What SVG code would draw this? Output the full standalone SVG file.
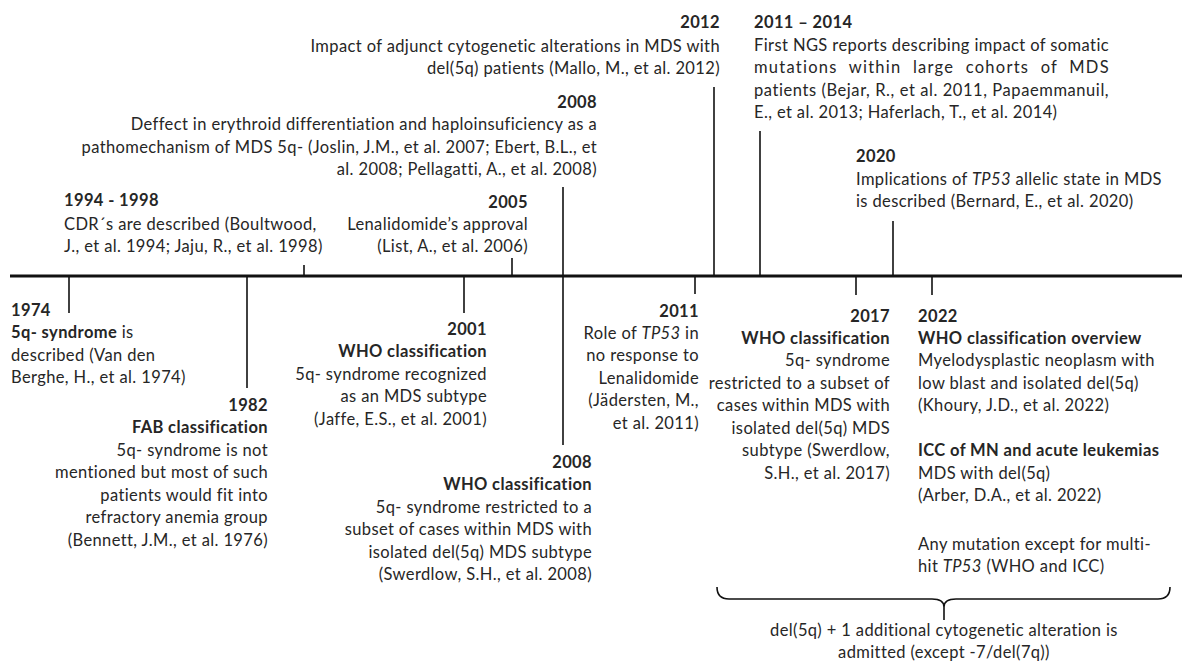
<svg xmlns="http://www.w3.org/2000/svg" width="1182" height="668" viewBox="0 0 1182 668">
<style>
text{font-family:Lato,"Open Sans","Liberation Sans",sans-serif;font-size:16.5px;letter-spacing:0.38px;fill:#262626}
.b{font-weight:bold}
.r{text-anchor:end}
.c{text-anchor:middle}
.i{font-style:italic}
.ln{stroke:#111;stroke-width:1.6;fill:none}
.ax{stroke:#111;stroke-width:3.2;fill:none}
</style>
<rect width="1182" height="668" fill="#fff"/>
<g id="connectors">
<line class="ax" x1="10" y1="276" x2="1182" y2="276"/>
<line class="ln" x1="714" y1="87" x2="714" y2="276"/>
<line class="ln" x1="563" y1="187" x2="563" y2="445"/>
<line class="ln" x1="760" y1="131" x2="760" y2="276"/>
<line class="ln" x1="893" y1="221" x2="893" y2="276"/>
<line class="ln" x1="304" y1="265" x2="304" y2="276"/>
<line class="ln" x1="512" y1="258" x2="512" y2="276"/>
<line class="ln" x1="69" y1="276" x2="69" y2="313"/>
<line class="ln" x1="247" y1="276" x2="247" y2="388"/>
<line class="ln" x1="464" y1="276" x2="464" y2="313"/>
<line class="ln" x1="695" y1="276" x2="695" y2="294"/>
<line class="ln" x1="856" y1="276" x2="856" y2="295"/>
<line class="ln" x1="932" y1="276" x2="932" y2="295"/>
<path class="ln" d="M717,587 Q717,599 729,599 L932,599 Q944,599 944,607 Q944,599 956,599 L1158,599 Q1170,599 1170,587 M944,605 L944,620"/>
</g>
<g id="e2012">
<text class="b r" x="720" y="28">2012</text>
<text class="r" x="720" y="52">Impact of adjunct cytogenetic alterations in MDS with</text>
<text class="r" x="720" y="74">del(5q) patients (Mallo, M., et al. 2012)</text>
</g>
<g id="e2008a">
<text class="b r" x="597" y="108">2008</text>
<text class="r" x="597" y="130">Deffect in erythroid differentiation and haploinsuficiency as a</text>
<text class="r" x="597" y="153">pathomechanism of MDS 5q- (Joslin, J.M., et al. 2007; Ebert, B.L., et</text>
<text class="r" x="597" y="175">al. 2008; Pellagatti, A., et al. 2008)</text>
</g>
<g id="e2011_2014">
<text class="b" x="754" y="28">2011 – 2014</text>
<text x="754" y="51" textLength="355" lengthAdjust="spacing">First NGS reports describing impact of somatic</text>
<text x="754" y="73" textLength="355" lengthAdjust="spacing" word-spacing="6">mutations within large cohorts of MDS</text>
<text x="754" y="96" textLength="355" lengthAdjust="spacing">patients (Bejar, R., et al. 2011, Papaemmanuil,</text>
<text x="754" y="118">E., et al. 2013; Haferlach, T., et al. 2014)</text>
</g>
<g id="e2020">
<text class="b" x="856" y="162">2020</text>
<text x="856" y="185">Implications of <tspan class="i">TP53</tspan> allelic state in MDS</text>
<text x="856" y="207">is described (Bernard, E., et al. 2020)</text>
</g>
<g id="e1994">
<text class="b" x="64" y="206">1994 - 1998</text>
<text x="64" y="230">CDR´s are described (Boultwood,</text>
<text x="64" y="252">J., et al. 1994; Jaju, R., et al. 1998)</text>
</g>
<g id="e2005">
<text class="b r" x="528" y="208">2005</text>
<text class="r" x="528" y="230">Lenalidomide’s approval</text>
<text class="r" x="528" y="252">(List, A., et al. 2006)</text>
</g>
<g id="e1974">
<text class="b" x="11" y="316">1974</text>
<text x="11" y="338"><tspan class="b">5q- syndrome</tspan> is</text>
<text x="11" y="361">described (Van den</text>
<text x="11" y="383">Berghe, H., et al. 1974)</text>
</g>
<g id="e1982">
<text class="b r" x="268" y="411">1982</text>
<text class="b r" x="268" y="433">FAB classification</text>
<text class="r" x="268" y="456">5q- syndrome is not</text>
<text class="r" x="268" y="478">mentioned but most of such</text>
<text class="r" x="268" y="501">patients would fit into</text>
<text class="r" x="268" y="523">refractory anemia group</text>
<text class="r" x="268" y="546">(Bennett, J.M., et al. 1976)</text>
</g>
<g id="e2001">
<text class="b r" x="487" y="335">2001</text>
<text class="b r" x="487" y="357">WHO classification</text>
<text class="r" x="487" y="380">5q- syndrome recognized</text>
<text class="r" x="487" y="402">as an MDS subtype</text>
<text class="r" x="487" y="425">(Jaffe, E.S., et al. 2001)</text>
</g>
<g id="e2008b">
<text class="b r" x="592" y="468">2008</text>
<text class="b r" x="592" y="490">WHO classification</text>
<text class="r" x="592" y="513">5q- syndrome restricted to a</text>
<text class="r" x="592" y="535">subset of cases within MDS with</text>
<text class="r" x="592" y="558">isolated del(5q) MDS subtype</text>
<text class="r" x="592" y="580">(Swerdlow, S.H., et al. 2008)</text>
</g>
<g id="e2011">
<text class="b r" x="699" y="317">2011</text>
<text class="r" x="699" y="339">Role of <tspan class="i">TP53</tspan> in</text>
<text class="r" x="699" y="361">no response to</text>
<text class="r" x="699" y="384">Lenalidomide</text>
<text class="r" x="699" y="406">(Jädersten, M.,</text>
<text class="r" x="699" y="429">et al. 2011)</text>
</g>
<g id="e2017">
<text class="b r" x="890" y="322">2017</text>
<text class="b r" x="890" y="344">WHO classification</text>
<text class="r" x="890" y="366">5q- syndrome</text>
<text class="r" x="890" y="389">restricted to a subset of</text>
<text class="r" x="890" y="411">cases within MDS with</text>
<text class="r" x="890" y="434">isolated del(5q) MDS</text>
<text class="r" x="890" y="456">subtype (Swerdlow,</text>
<text class="r" x="890" y="479">S.H., et al. 2017)</text>
</g>
<g id="e2022">
<text class="b" x="918" y="322">2022</text>
<text class="b" x="918" y="344">WHO classification overview</text>
<text x="918" y="366">Myelodysplastic neoplasm with</text>
<text x="918" y="389">low blast and isolated del(5q)</text>
<text x="918" y="411">(Khoury, J.D., et al. 2022)</text>
<text class="b" x="918" y="456">ICC of MN and acute leukemias</text>
<text x="918" y="479">MDS with del(5q)</text>
<text x="918" y="501">(Arber, D.A., et al. 2022)</text>
<text x="918" y="550">Any mutation except for multi-</text>
<text x="918" y="572">hit <tspan class="i">TP53</tspan> (WHO and ICC)</text>
</g>
<g id="note">
<text class="c" x="944" y="636">del(5q) + 1 additional cytogenetic alteration is</text>
<text class="c" x="944" y="658">admitted (except -7/del(7q))</text>
</g>
</svg>
